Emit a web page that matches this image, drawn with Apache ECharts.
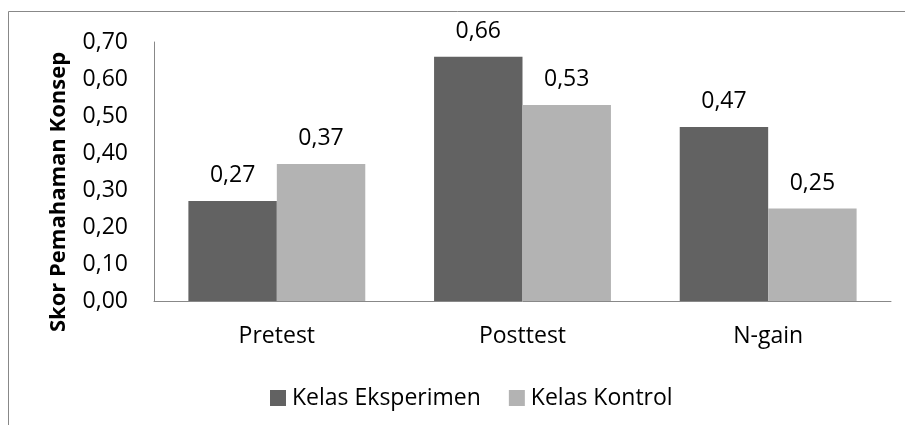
<!DOCTYPE html>
<html>
<head>
<meta charset="utf-8">
<script src="https://cdn.jsdelivr.net/npm/echarts@6/dist/echarts.min.js"></script>
<style>
  html, body { margin: 0; padding: 0; background: #fff; }
  #chart { width: 905px; height: 425px; }
</style>
</head>
<body>
<div id="chart"></div>
<script>
const categories = ['Pretest', 'Posttest', 'N-gain'];
const seriesNames = ['Kelas Eksperimen', 'Kelas Kontrol'];
const eksperimen = [0.27, 0.66, 0.47];
const kontrol = [0.37, 0.53, 0.25];
const yAxisTitle = 'Skor Pemahaman Konsep';

const FONT = 'Open Sans';
const FS = 23;
const comma = v => v.toFixed(2).replace('.', ',');

const chart = echarts.init(document.getElementById('chart'));
const barLabel = {
  show: true, position: 'top', distance: 14,
  fontFamily: FONT, fontSize: FS, color: '#000',
  formatter: p => comma(p.value)
};
const option = {
  animation: false,
  backgroundColor: '#fff',
  textStyle: { fontFamily: FONT },
  grid: { left: 154, right: 14, top: 42, bottom: 124 },
  graphic: [
    {
      type: 'rect',
      shape: { x: 8.5, y: 11.5, width: 1000, height: 1000 },
      style: { fill: 'none', stroke: '#888', lineWidth: 1 }
    },
    {
      type: 'text',
      x: 59, y: 192,
      rotation: Math.PI / 2,
      style: {
        text: yAxisTitle, fontFamily: FONT, fontSize: 22, fontWeight: 'bold',
        fill: '#000', align: 'center', verticalAlign: 'middle'
      }
    }
  ],
  legend: {
    top: 381,
    left: 265,
    itemWidth: 16, itemHeight: 16, itemGap: 28,
    icon: 'rect',
    textStyle: { fontFamily: FONT, fontSize: FS, lineHeight: 24, color: '#000', padding: [0, 0, 0, 1] },
    data: seriesNames
  },
  xAxis: {
    type: 'category',
    data: categories,
    axisLine: { lineStyle: { color: '#888', width: 1 } },
    axisTick: { show: false },
    axisLabel: { fontFamily: FONT, fontSize: FS, color: '#000', margin: 24 }
  },
  yAxis: {
    type: 'value',
    min: 0, max: 0.7, interval: 0.1,
    axisLine: { show: true, lineStyle: { color: '#888', width: 1 } },
    axisTick: { show: false },
    splitLine: { show: false },
    axisLabel: { fontFamily: FONT, fontSize: FS, color: '#000', margin: 26, formatter: comma }
  },
  series: [
    {
      name: seriesNames[0], type: 'bar', data: eksperimen,
      barWidth: '36%', barGap: '0%',
      itemStyle: { color: '#626262' },
      label: barLabel
    },
    {
      name: seriesNames[1], type: 'bar', data: kontrol,
      barWidth: '36%', barGap: '0%',
      itemStyle: { color: '#b3b3b3' },
      label: barLabel
    }
  ]
};
chart.setOption(option);
</script>
</body>
</html>
